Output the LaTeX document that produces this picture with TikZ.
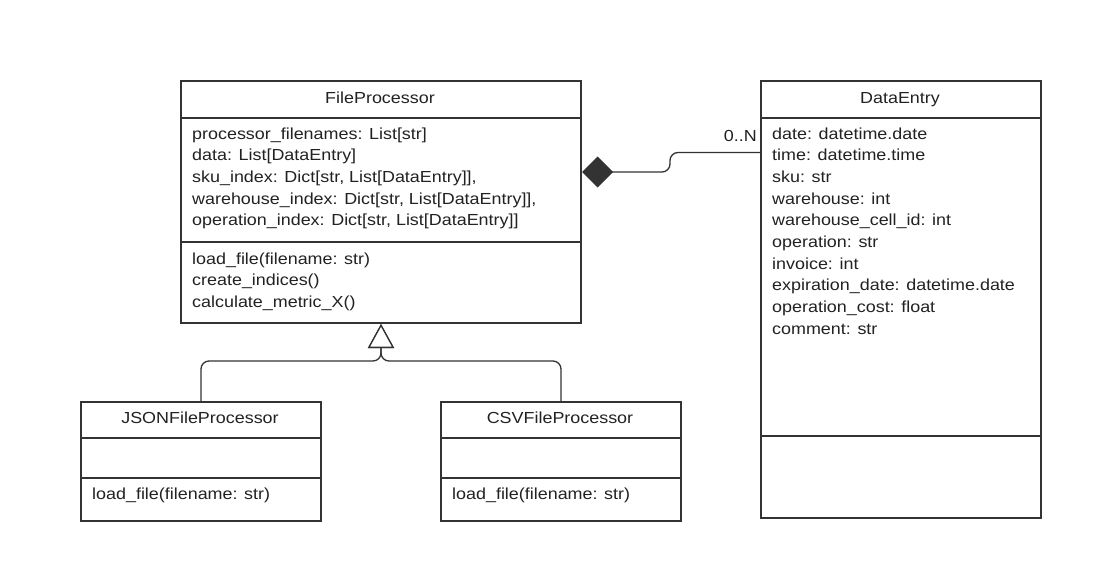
\documentclass[tikz,border=0pt]{standalone}
\usepackage{fontspec}
\setmainfont[FakeStretch=1.12]{Liberation Sans}
\usetikzlibrary{arrows.meta,calc}
\definecolor{ln}{HTML}{333333}
\definecolor{tx}{HTML}{222222}
\begin{document}
\begin{tikzpicture}[x=1pt,y=1pt,
  box/.style={draw=ln, line width=2pt, rectangle, inner sep=0pt, anchor=north west},
  div/.style={draw=ln, line width=2pt},
  ttl/.style={font=\fontsize{16}{19}\selectfont, text=tx, inner sep=0pt, anchor=base},
  txt/.style={font=\fontsize{16}{21.7}\selectfont, text=tx, align=left, inner sep=0pt, anchor=base west},
  conn/.style={draw=ln, line width=1.3pt, rounded corners=8pt},
  comp/.style={conn, {Diamond[length=31pt,width=31pt,fill=ln]}-},
  inh/.style={conn, -{Triangle[open,length=24pt,width=26pt,line width=1.3pt,fill=white]}},
]
\useasboundingbox[fill=white] (0,0) rectangle (1104,-584);

% FileProcessor
\node[box, minimum width=400pt, minimum height=242pt] (fp) at (180,-80) {};
\draw[div] ($(fp.north west)+(0,-38)$) -- ($(fp.north east)+(0,-38)$);
\draw[div] ($(fp.north west)+(0,-162)$) -- ($(fp.north east)+(0,-162)$);
\node[ttl] (fpt) at (380,-103.5) {FileProcessor};
% base anchor = baseline of last line
\node[txt] (fpa) at (192,-225.8) {processor\_filenames: List[str]\\data: List[DataEntry]\\sku\_index: Dict[str, List[DataEntry]],\\warehouse\_index: Dict[str, List[DataEntry]],\\operation\_index: Dict[str, List[DataEntry]]};
\node[txt] (fpm) at (192,-307.4) {load\_file(filename: str)\\create\_indices()\\calculate\_metric\_X()};

% DataEntry
\node[box, minimum width=280pt, minimum height=437pt] (de) at (760,-80) {};
\draw[div] ($(de.north west)+(0,-38)$) -- ($(de.north east)+(0,-38)$);
\draw[div] ($(de.north west)+(0,-356)$) -- ($(de.north east)+(0,-356)$);
\node[ttl] (det) at (900,-103.5) {DataEntry};
\node[txt] (dea) at (772,-334.3) {date: datetime.date\\time: datetime.time\\sku: str\\warehouse: int\\warehouse\_cell\_id: int\\operation: str\\invoice: int\\expiration\_date: datetime.date\\operation\_cost: float\\comment: str};

% JSONFileProcessor
\node[box, minimum width=240pt, minimum height=119pt] (json) at (80,-401) {};
\draw[div] ($(json.north west)+(0,-37)$) -- ($(json.north east)+(0,-37)$);
\draw[div] ($(json.north west)+(0,-77)$) -- ($(json.north east)+(0,-77)$);
\node[ttl] (jsont) at (200,-423) {JSONFileProcessor};
\node[txt] (jsonm) at (92,-499) {load\_file(filename: str)};

% CSVFileProcessor
\node[box, minimum width=240pt, minimum height=119pt] (csv) at (440,-401) {};
\draw[div] ($(csv.north west)+(0,-37)$) -- ($(csv.north east)+(0,-37)$);
\draw[div] ($(csv.north west)+(0,-77)$) -- ($(csv.north east)+(0,-77)$);
\node[ttl] (csvt) at (560,-423) {CSVFileProcessor};
\node[txt] (csvm) at (452,-499) {load\_file(filename: str)};

% composition
\coordinate (cfp) at ($(fp.north east)+(0,-92)$);
\coordinate (cde) at ($(de.north west)+(0,-72.5)$);
\draw[comp] (cfp) -- (670,-172) -- (670,-152.5) -- (cde);
\node[ttl, anchor=base east] (mult) at (757,-141) {0..N};

% inheritance
\draw[inh] (json.north) -- ++(0,40) -| (fp.south);
\draw[inh] (csv.north) -- ++(0,40) -| (fp.south);
\end{tikzpicture}
\end{document}
